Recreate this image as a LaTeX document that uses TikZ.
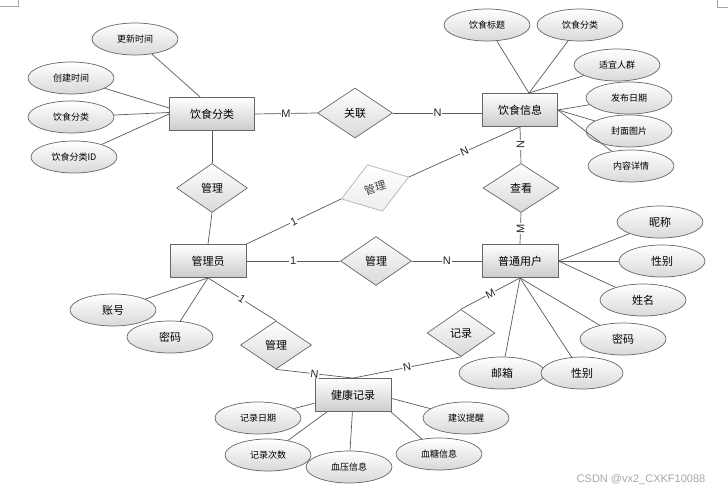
\documentclass[tikz,border=0pt]{standalone}
\usepackage{fontspec}
\setmainfont{Liberation Sans}
\newfontfamily\cjk{Noto Sans CJK SC}
\usetikzlibrary{shapes.geometric}
\begin{document}
\begin{tikzpicture}[x=1pt,y=-1pt,
  conn/.style={draw=black!65, line width=0.7pt},
  ent/.style={draw=black!60, line width=0.8pt, top color=white, bottom color=black!20, minimum width=76pt, minimum height=33pt, inner sep=0pt, font=\cjk\fontsize{11}{13}\selectfont},
  rel/.style={diamond, draw=black!60, line width=0.7pt, top color=white, bottom color=black!15, minimum width=71pt, minimum height=49pt, inner sep=0pt, font=\cjk\fontsize{11}{13}\selectfont},
  attr/.style={ellipse, draw=black!60, line width=0.7pt, top color=white, bottom color=black!15, minimum width=86pt, minimum height=32pt, inner sep=0pt, font=\cjk\fontsize{9}{11}\selectfont},
  battr/.style={attr, font=\cjk\fontsize{11}{13}\selectfont},
  card/.style={fill=white, inner sep=0.8pt, font=\fontsize{11}{13}\selectfont, text=black!85}
]
\useasboundingbox (0,0) rectangle (728,494);
% corner marks
\draw[black!35, line width=0.5pt] (0,6) -- (18,6) -- (18,0);
\draw[black!35, line width=0.5pt] (717,0) -- (717,7) -- (728,7);

% entities
\node[ent, minimum width=85pt] (fc) at (212,114) {饮食分类};
\node[ent, minimum width=75pt] (fi) at (520,110) {饮食信息};
\node[ent] (adm) at (208,261) {管理员};
\node[ent] (pu) at (520,261) {普通用户};
\node[ent] (hr) at (353,395) {健康记录};

% relationships
\node[rel, minimum width=75pt, minimum height=50pt] (r1) at (355,113) {关联};
\node[rel] (r2) at (212,188) {管理};
\node[rel, rotate=18, draw=black!30, bottom color=black!7, text=black!75] (r3) at (375,188) {管理};
\node[rel, minimum width=76pt] (r4) at (521,188) {查看};
\node[rel] (r5) at (376,261) {管理};
\node[rel, minimum width=68pt, minimum height=47pt] (r6) at (461,333) {记录};
\node[rel, minimum height=48pt] (r7) at (276,345) {管理};

% attributes of 饮食分类
\node[attr] (a1) at (135,39) {更新时间};
\node[attr] (a2) at (71,78) {创建时间};
\node[attr] (a3) at (71,117) {饮食分类};
\node[attr] (a4) at (74,157) {饮食分类ID};
% attributes of 饮食信息
\node[attr] (b1) at (487,25) {饮食标题};
\node[attr] (b2) at (580,25) {饮食分类};
\node[attr] (b3) at (617,65) {适宜人群};
\node[attr] (b4) at (629,98) {发布日期};
\node[attr] (b5) at (629,131) {封面图片};
\node[attr] (b6) at (631,166) {内容详情};
% attributes of 普通用户
\node[battr] (c1) at (660,222) {昵称};
\node[battr] (c2) at (662,261) {性别};
\node[battr] (c3) at (643,300) {姓名};
\node[battr] (c4) at (623,339) {密码};
\node[battr] (c5) at (502,373) {邮箱};
\node[battr, minimum width=82pt] (c6) at (582,373) {性别};
% attributes of 管理员
\node[battr] (d1) at (113,310) {账号};
\node[battr] (d2) at (170,337) {密码};
% attributes of 健康记录
\node[attr] (e1) at (258,418) {记录日期};
\node[attr] (e2) at (268,455) {记录次数};
\node[attr] (e3) at (349,467) {血压信息};
\node[attr] (e4) at (466,418) {建议提醒};
\node[attr] (e5) at (439,454) {血糖信息};

% attribute connectors
\draw[conn] (a1) -- (fc.125);
\draw[conn] (a2) -- (fc.172);
\draw[conn] (a3) -- (fc.178);
\draw[conn] (a4) -- (fc.west);
\draw[conn] (b1) -- (fi.62);
\draw[conn] (b2) -- (fi.62);
\draw[conn] (b3) -- (fi.62);
\draw[conn] (b4) -- (fi.east);
\draw[conn] (b5) -- (fi.east);
\draw[conn] (b6) -- (fi.east);
\draw[conn] (c1) -- (pu.east);
\draw[conn] (c2) -- (pu.east);
\draw[conn] (c3) -- (pu.east);
\draw[conn] (c4) -- (pu.south);
\draw[conn] (c5) -- (pu.south);
\draw[conn] (c6) -- (pu.south);
\draw[conn] (d1) -- (adm.south);
\draw[conn] (d2) -- (adm.south);
\draw[conn] (e1) -- (hr.192);
\draw[conn] (e2) -- (hr.213);
\draw[conn] (e3) -- (hr.268);
\draw[conn] (e4) -- (hr.-5);
\draw[conn] (e5) -- (hr.-24);

% relationship connectors
\draw[conn] (fc.east) -- node[card] {M} (r1.west);
\draw[conn] (r1.east) -- node[card] {N} (r1.east -| fi.west);
\draw[conn] (fc.south) -- (r2.north);
\draw[conn] (r2.south) -- (adm.north);
\draw[conn] (adm.north east) -- node[card, sloped] {1} (r3.west);
\draw[conn] (r3.east) -- node[card, sloped] {N} (fi.south);
\draw[conn] (fi.south) -- node[card, rotate=90] {N} (r4.north);
\draw[conn] (r4.south) -- node[card, rotate=90] {M} (pu.north);
\draw[conn] (adm.east) -- node[card] {1} (r5.west);
\draw[conn] (r5.east) -- node[card] {N} (pu.west);
\draw[conn] (adm.south) -- node[card, sloped] {1} (r7.north);
\draw[conn] (r7.south) -- node[card, sloped] {N} (hr.north);
\draw[conn] (pu.south) -- node[card, sloped] {M} (r6.north);
\draw[conn] (r6.south) -- node[card, sloped] {N} (hr.north);

% watermark
\node[text=black!35, font=\fontsize{11}{13}\selectfont, inner sep=0pt] (wm) at (641,480) {CSDN @vx2\_CXKF10088};
\end{tikzpicture}
\end{document}
